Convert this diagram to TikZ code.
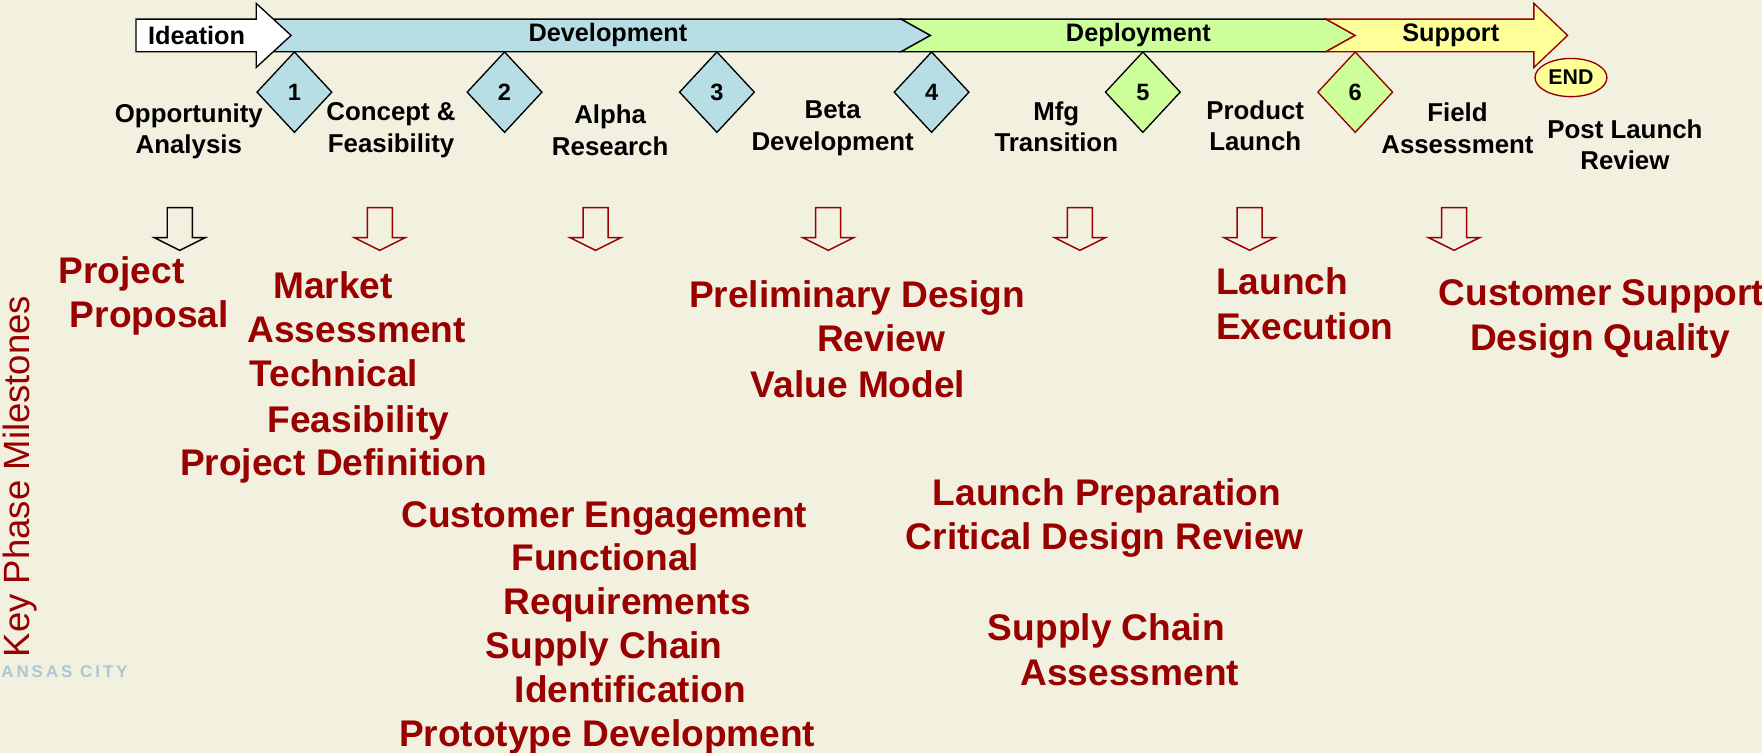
\documentclass[tikz,border=0pt]{standalone}
\usepackage{fontspec}
\setmainfont{Liberation Sans}
\usetikzlibrary{shapes.geometric,shapes.arrows}
\definecolor{bg}{RGB}{242,240,223}
\definecolor{devblue}{RGB}{183,221,229}
\definecolor{depgreen}{RGB}{204,255,153}
\definecolor{supyellow}{RGB}{255,255,153}
\definecolor{darkred}{RGB}{153,0,0}
\definecolor{kcblue}{RGB}{172,198,214}
\begin{document}
\begin{tikzpicture}[x=1pt,y=-1pt,
  bartext/.style={font=\fontsize{22.5}{26}\selectfont\bfseries, text=black},
  phaselabel/.style={font=\fontsize{23}{28}\selectfont\bfseries, align=center, text=black},
  redline/.style={font=\fontsize{33}{39}\selectfont\bfseries, text=darkred, anchor=base west, inner sep=0pt},
  gate/.style={diamond, draw=black, line width=1.2pt, minimum width=67pt, minimum height=72pt, inner sep=0pt,
    font=\fontsize{21}{25}\selectfont\bfseries},
  downarrow/.style={single arrow, draw=#1, line width=1.3pt, fill=none, rotate=-90,
    minimum height=38pt, inner xsep=0pt, inner ysep=10.5pt, single arrow head extend=11.5pt,
    single arrow tip angle=127},
]
\useasboundingbox (0,0) rectangle (1568,670);
\fill[bg] (0,0) rectangle (1568,670);

% faint background logo text
\node[anchor=west, inner sep=0pt, text=kcblue, font=\fontsize{15}{18}\selectfont\bfseries\addfontfeature{LetterSpace=18}] (kc) at (1,598) {ANSAS CITY};

% phase bar
\draw[fill=devblue, line width=1.2pt] (228,17) -- (802,17) -- (828,31.5) -- (802,46) -- (228,46) -- cycle;
\draw[fill=depgreen, line width=1.2pt] (802,17) -- (1180,17) -- (1206,31.5) -- (1180,46) -- (802,46) -- (828,31.5) -- cycle;
\draw[fill=supyellow, draw=darkred, line width=1.2pt] (1180,17) -- (1365,17) -- (1365,3) -- (1395,31.5) -- (1365,60) -- (1365,46) -- (1180,46) -- (1206,31.5) -- cycle;
\draw[fill=white, line width=1.2pt] (121,17) -- (228,17) -- (228,3) -- (259,31.5) -- (228,60) -- (228,46) -- (121,46) -- cycle;

\node[bartext] (pIdeation) at (175,31.5) {Ideation};
\node[bartext] (pDevelopment) at (541,31.5) {Development};
\node[bartext] (pDeployment) at (1013,31.5) {Deployment};
\node[bartext] (pSupport) at (1291,31.5) {Support};

% gates
\node[gate, fill=devblue] (g1) at (262,82) {1};
\node[gate, fill=devblue] (g2) at (449,82) {2};
\node[gate, fill=devblue] (g3) at (638,82) {3};
\node[gate, fill=devblue] (g4) at (829,82) {4};
\node[gate, fill=depgreen] (g5) at (1017,82) {5};
\node[gate, fill=depgreen, draw=darkred] (g6) at (1206,82) {6};

\node[ellipse, draw=darkred, fill=supyellow, line width=1.2pt, minimum width=64pt, minimum height=34pt, inner sep=0pt,
  font=\fontsize{19}{22}\selectfont\bfseries] (endn) at (1398,69) {END};

% phase labels
\node[phaselabel] (l1) at (168,117) {Opportunity\\Analysis};
\node[phaselabel] (l2) at (348,116) {Concept \&\\Feasibility};
\node[phaselabel] (l3) at (543,116) {Alpha\\Research};
\node[phaselabel] (l4) at (741,114) {Beta\\Development};
\node[phaselabel] (l5) at (940,113) {Mfg\\Transition};
\node[phaselabel] (l6) at (1117,112) {Product\\Launch};
\node[phaselabel] (l7) at (1297,114) {Field\\Assessment};
\node[phaselabel] (l8) at (1446,129) {Post Launch\\Review};

% hollow down arrows
\node[downarrow=black] (a1) at (160,201) {};
\node[downarrow=darkred] (a2) at (338,201) {};
\node[downarrow=darkred] (a3) at (530,201) {};
\node[downarrow=darkred] (a4) at (737,201) {};
\node[downarrow=darkred] (a5) at (961,201) {};
\node[downarrow=darkred] (a6) at (1112,201) {};
\node[downarrow=darkred] (a7) at (1294,201) {};

% milestones
\node[redline] (mA1) at (52,252) {Project};
\node[redline] (mA2) at (62,291) {Proposal};

\node[redline] (mB1) at (243,266) {Market};
\node[redline] (mB2) at (220,305) {Assessment};
\node[redline] (mB3) at (222,344) {Technical};
\node[redline] (mB4) at (238,385) {Feasibility};
\node[redline] (mB5) at (160,423) {Project Definition};

\node[redline] (mC1) at (357,469) {Customer Engagement};
\node[redline] (mC2) at (455,508) {Functional};
\node[redline] (mC3) at (448,547) {Requirements};
\node[redline] (mC4) at (432,586) {Supply Chain};
\node[redline] (mC5) at (458,625) {Identification};
\node[redline] (mC6) at (355,664) {Prototype Development};

\node[redline] (mD1) at (613,274) {Preliminary Design};
\node[redline] (mD2) at (727,313) {Review};
\node[redline] (mD3) at (668,354) {Value Model};

\node[redline] (mE1) at (830,450) {Launch Preparation};
\node[redline] (mE2) at (806,489) {Critical Design Review};
\node[redline] (mE3) at (879,570) {Supply Chain};
\node[redline] (mE4) at (908,610) {Assessment};

\node[redline] (mF1) at (1082,262) {Launch};
\node[redline] (mF2) at (1082,302) {Execution};

\node[redline] (mG1) at (1280,272) {Customer Support};
\node[redline] (mG2) at (1308,312) {Design Quality};

% side title
\node[rotate=90, text=darkred, font=\fontsize{32.5}{38}\selectfont, inner sep=0pt] (side) at (18,424) {Key Phase Milestones};
\end{tikzpicture}
\end{document}
